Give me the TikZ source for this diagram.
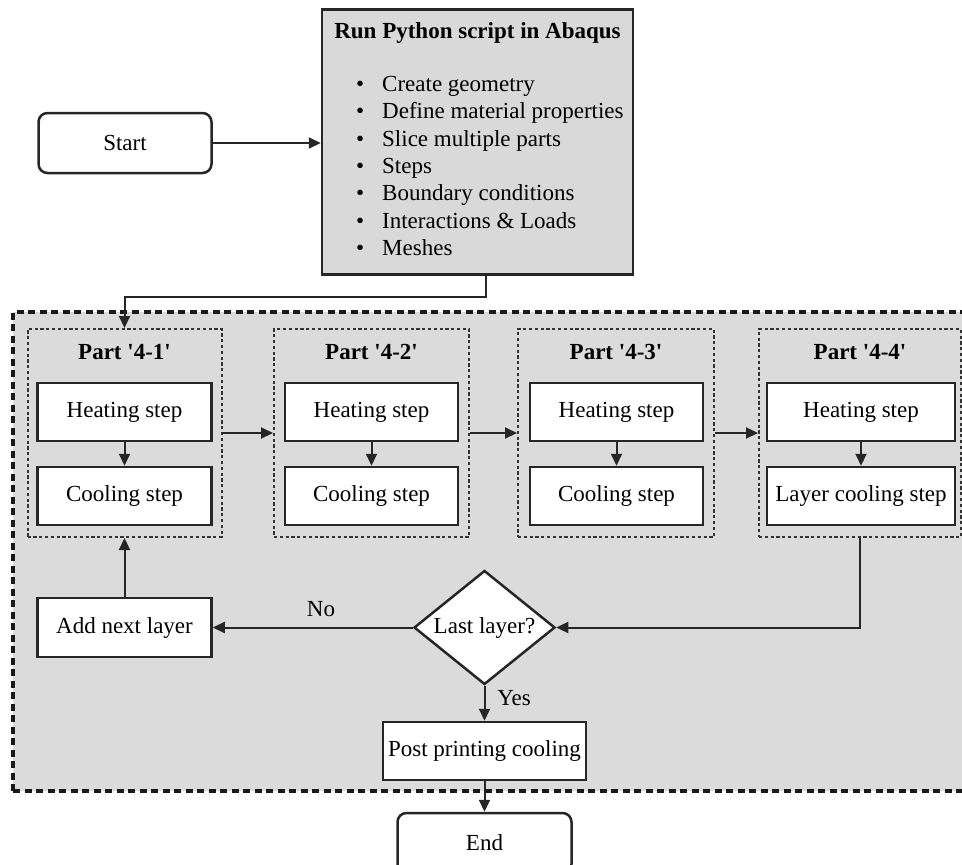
\documentclass[tikz,border=0pt]{standalone}
\usepackage{fontspec}
\setmainfont{Liberation Serif}[Ligatures=TeXOff]
\usetikzlibrary{arrows.meta,shapes.geometric}
\begin{document}
\begin{tikzpicture}[x=1pt,y=-1pt,
  txt/.style={font=\fontsize{23}{27.3}\selectfont},
  stepbox/.style={draw=black!85, line width=2.5pt, fill=white, inner sep=0pt,
    minimum width=173pt, minimum height=58pt, txt},
  roundbox/.style={stepbox, rounded corners=9pt, minimum height=60pt},
  partbox/.style={draw=black!80, line width=2pt, dash pattern=on 3.2pt off 2.6pt,
    minimum width=194pt, minimum height=208pt, inner sep=0pt},
  regionbox/.style={draw=black!90, line width=3.5pt, dash pattern=on 7pt off 4.5pt,
    fill=gray!28, minimum width=962pt, minimum height=479pt, inner sep=0pt},
  parttitle/.style={txt, font=\fontsize{23}{27.3}\selectfont\bfseries, inner sep=0pt},
  decision/.style={diamond, draw=black!85, line width=2.5pt, fill=white, inner sep=0pt,
    aspect=1.237, minimum width=141pt, minimum height=114pt, txt},
  arr/.style={draw=black!85, line width=2pt, -{Triangle[length=12pt,width=11pt]}},
  lbl/.style={txt, inner sep=0pt}
]
\useasboundingbox (0,0) rectangle (962,865);

% background dashed region
\node[regionbox] (region) at (494,551.5) {};

% top
\node[roundbox] (start) at (125,143) {Start};
\node[draw=black!85, line width=2.5pt, fill=gray!30, minimum width=311pt,
      minimum height=265pt, inner sep=0pt] (main) at (477.5,142) {};
\node[parttitle] (maintitle) at (477.5,33) {Run Python script in Abaqus};
\node[txt, align=left, inner sep=0pt, anchor=west] (mainlist) at (356,166) {%
  \makebox[26pt][l]{\textbullet}Create geometry\\
  \makebox[26pt][l]{\textbullet}Define material properties\\
  \makebox[26pt][l]{\textbullet}Slice multiple parts\\
  \makebox[26pt][l]{\textbullet}Steps\\
  \makebox[26pt][l]{\textbullet}Boundary conditions\\
  \makebox[26pt][l]{\textbullet}Interactions \& Loads\\
  \makebox[26pt][l]{\textbullet}Meshes};

% parts
\node[partbox] (p1) at (124.5,433) {};
\node[partbox, minimum width=195pt] (p2) at (371.5,433) {};
\node[partbox, minimum width=196pt] (p3) at (616,433) {};
\node[partbox, minimum width=202pt] (p4) at (860,433) {};

\node[parttitle] (t1) at (124.5,352) {Part '4-1'};
\node[parttitle] (t2) at (371.5,352) {Part '4-2'};
\node[parttitle] (t3) at (616,352) {Part '4-3'};
\node[parttitle] (t4) at (860,352) {Part '4-4'};

\node[stepbox, minimum width=174pt] (h1) at (124.5,412) {Heating step};
\node[stepbox, minimum width=174pt] (c1) at (124.5,496) {Cooling step};
\node[stepbox] (h2) at (371.5,412) {Heating step};
\node[stepbox] (c2) at (371.5,496) {Cooling step};
\node[stepbox] (h3) at (616.5,412) {Heating step};
\node[stepbox] (c3) at (616.5,496) {Cooling step};
\node[stepbox, minimum width=188pt] (h4) at (861,412) {Heating step};
\node[stepbox, minimum width=188pt] (c4) at (861,496) {Layer cooling step};

% lower part
\node[stepbox, minimum width=174pt, minimum height=59pt] (add) at (124.5,627.5) {Add next layer};
\node[decision] (dia) at (484.5,627.5) {Last layer?};
\node[stepbox, minimum width=203pt] (post) at (484.5,751) {Post printing cooling};
\node[roundbox, minimum width=174pt] (end) at (484.5,843) {End};

% connectors
\draw[arr] (start.east) -- (start.east -| main.west);
\draw[arr] ([xshift=8.5pt]main.south) -- ++(0,21) -| (p1.north);
\draw[arr] (h1) -- (c1);
\draw[arr] (h2) -- (c2);
\draw[arr] (h3) -- (c3);
\draw[arr] (h4) -- (c4);
\draw[arr] (p1.east) -- (p2.west);
\draw[arr] (p2.east) -- (p3.west);
\draw[arr] (p3.east) -- (p4.west);
\draw[arr] (p4.south) |- (dia.east);
\draw[arr] (dia.west) -- (add.east);
\draw[arr] (add.north) -- (p1.south);
\draw[arr] (dia.south) -- (post.north);
\draw[arr] (post.south) -- (end.north);

\node[lbl] (no) at (321,609) {No};
\node[lbl] (yes) at (514,698) {Yes};
\end{tikzpicture}
\end{document}
